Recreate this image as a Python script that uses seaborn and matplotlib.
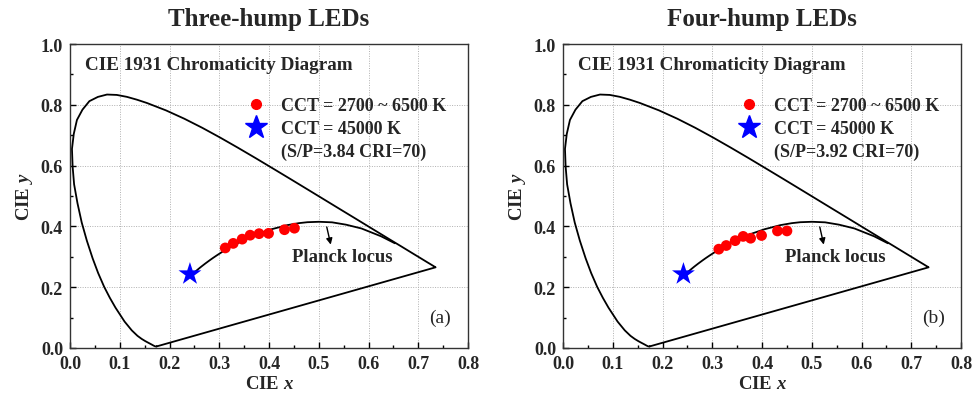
import numpy as np
import pandas as pd
import matplotlib
matplotlib.use("Agg")
import matplotlib.pyplot as plt
from matplotlib.lines import Line2D
import seaborn as sns

# ---------------- data ----------------
# CIE 1931 spectral locus (380-700 nm), denser around the green corner
spec_x = [0.1741, 0.1740, 0.1738, 0.1736, 0.1733, 0.1730, 0.1726, 0.1721, 0.1714, 0.1703,
          0.1689, 0.1669, 0.1644, 0.1611, 0.1566, 0.1510, 0.1440, 0.1355, 0.1241, 0.1096,
          0.0913, 0.0800, 0.0687, 0.0565, 0.0454, 0.0338, 0.0235, 0.0150, 0.0082, 0.0052,
          0.0039, 0.0075, 0.0139, 0.0250, 0.0389, 0.0560, 0.0743, 0.0940, 0.1142, 0.1345,
          0.1547, 0.1929, 0.2296, 0.2658, 0.3016, 0.3373, 0.3731, 0.4087, 0.4441, 0.4788,
          0.5125, 0.5448, 0.5752, 0.6029, 0.6270, 0.6482, 0.6658, 0.6801, 0.6915, 0.7006,
          0.7079, 0.7140, 0.7190, 0.7230, 0.7260, 0.7283, 0.7300, 0.7311, 0.7320, 0.7327,
          0.7334, 0.7340, 0.7344, 0.7346, 0.7347]
spec_y = [0.0050, 0.0050, 0.0049, 0.0049, 0.0048, 0.0048, 0.0048, 0.0048, 0.0051, 0.0058,
          0.0069, 0.0086, 0.0109, 0.0138, 0.0177, 0.0227, 0.0297, 0.0399, 0.0578, 0.0868,
          0.1327, 0.1650, 0.2007, 0.2465, 0.2950, 0.3530, 0.4127, 0.4760, 0.5384, 0.5970,
          0.6548, 0.7040, 0.7502, 0.7840, 0.8120, 0.8260, 0.8338, 0.8325, 0.8262, 0.8168,
          0.8059, 0.7816, 0.7543, 0.7243, 0.6923, 0.6589, 0.6245, 0.5896, 0.5547, 0.5202,
          0.4866, 0.4544, 0.4242, 0.3965, 0.3725, 0.3514, 0.3340, 0.3197, 0.3083, 0.2993,
          0.2920, 0.2859, 0.2809, 0.2770, 0.2740, 0.2717, 0.2700, 0.2689, 0.2680, 0.2673,
          0.2666, 0.2660, 0.2656, 0.2654, 0.2653]

# Planck locus (from 1000 K toward very high CCT)
planck_x = [0.6528, 0.6251, 0.5857, 0.5547, 0.5267, 0.5006, 0.4770, 0.4599, 0.4369, 0.4053,
            0.3805, 0.3608, 0.3451, 0.3325, 0.3221, 0.3135, 0.3064, 0.2952, 0.2869, 0.2807,
            0.2719, 0.2637, 0.2565, 0.2525, 0.2495, 0.2455, 0.2420]
planck_y = [0.3444, 0.3674, 0.3931, 0.4056, 0.4133, 0.4151, 0.4137, 0.4106, 0.4041, 0.3907,
            0.3768, 0.3636, 0.3516, 0.3411, 0.3318, 0.3237, 0.3166, 0.3048, 0.2956, 0.2884,
            0.2778, 0.2674, 0.2577, 0.2522, 0.2480, 0.2440, 0.2410]

# LED chromaticity points, CCT 2700~6500 K
three_x = [0.312, 0.328, 0.346, 0.362, 0.380, 0.399, 0.431, 0.451]
three_y = [0.329, 0.344, 0.358, 0.371, 0.376, 0.377, 0.389, 0.394]
four_x = [0.313, 0.328, 0.346, 0.362, 0.377, 0.399, 0.431, 0.450]
four_y = [0.325, 0.337, 0.353, 0.367, 0.361, 0.370, 0.385, 0.385]

# CCT = 45000 K points
star_three = (0.241, 0.243)
star_four = (0.242, 0.243)

titles = ["Three-hump LEDs", "Four-hump LEDs"]
sp_labels = ["(S/P=3.84 CRI=70)", "(S/P=3.92 CRI=70)"]
panel_tags = ["(a)", "(b)"]
x_ticks = [0.0, 0.1, 0.2, 0.3, 0.4, 0.5, 0.6, 0.7, 0.8]
y_ticks = [0.0, 0.2, 0.4, 0.6, 0.8, 1.0]

# ---------------- style ----------------
sns.set_style("ticks")
plt.rcParams["font.family"] = ["Liberation Serif", "DejaVu Serif"]
plt.rcParams["font.weight"] = "bold"
plt.rcParams["axes.labelweight"] = "bold"
plt.rcParams["mathtext.fontset"] = "custom"
plt.rcParams["mathtext.it"] = "Liberation Serif:italic:bold"
plt.rcParams["mathtext.rm"] = "Liberation Serif:bold"

fig = plt.figure(figsize=(9.78, 4.02), dpi=100)
axes = [fig.add_axes([0.0716, 0.132, 0.407, 0.756]),
        fig.add_axes([0.5757, 0.132, 0.407, 0.756])]

spec_df = pd.DataFrame({"x": spec_x + [spec_x[0]], "y": spec_y + [spec_y[0]]})
planck_df = pd.DataFrame({"x": planck_x, "y": planck_y})
leds = [pd.DataFrame({"x": three_x, "y": three_y}), pd.DataFrame({"x": four_x, "y": four_y})]
stars = [star_three, star_four]

for i, ax in enumerate(axes):
    ax.grid(True, which="major", color="#b0b0b0", linestyle=(0, (1, 1.5)), linewidth=0.7)
    ax.set_axisbelow(True)
    sns.lineplot(data=spec_df, x="x", y="y", sort=False, estimator=None, color="black",
                 linewidth=1.3, ax=ax, solid_joinstyle="round")
    sns.lineplot(data=planck_df, x="x", y="y", sort=False, estimator=None, color="black",
                 linewidth=1.3, ax=ax, solid_joinstyle="round")
    sns.scatterplot(data=leds[i], x="x", y="y", color="red", s=60, edgecolor="none",
                    ax=ax, zorder=5)
    sns.scatterplot(x=[stars[i][0]], y=[stars[i][1]], marker="*", color="blue", s=300,
                    edgecolor="none", ax=ax, zorder=6)

    ax.set_xlim(0, 0.8)
    ax.set_ylim(0, 1.0)
    ax.set_xticks(x_ticks)
    ax.set_yticks(y_ticks)
    ax.set_xticks(np.arange(0.05, 0.8, 0.1), minor=True)
    ax.set_yticks(np.arange(0.1, 1.0, 0.2), minor=True)
    ax.set_xticklabels([f"{v:.1f}" for v in x_ticks])
    ax.set_yticklabels([f"{v:.1f}" for v in y_ticks])
    ax.tick_params(which="both", direction="in", top=False, right=False,
                   labelsize=13, color="black", pad=5)
    ax.tick_params(which="major", length=4, width=1)
    ax.tick_params(which="minor", length=2.5, width=1)
    for s in ax.spines.values():
        s.set_linewidth(1.0)
        s.set_color("#333333")
        s.set_visible(True)

    ax.set_xlabel("CIE $x$", fontsize=13.5, labelpad=2)
    ax.set_ylabel("CIE $y$", fontsize=13.5, labelpad=4)
    ax.set_title(titles[i], fontsize=18, fontweight="bold", pad=14)

    ax.text(0.038, 0.934, "CIE 1931 Chromaticity Diagram", transform=ax.transAxes,
            fontsize=13.8, fontweight="bold", va="center", ha="left")
    ax.text(0.93, 0.10, panel_tags[i], transform=ax.transAxes, fontsize=14,
            fontweight="normal", ha="center", va="center")

    ax.annotate("", xy=(0.524, 0.340), xytext=(0.516, 0.398),
                arrowprops=dict(arrowstyle="-|>", color="black", lw=1.0,
                                mutation_scale=9, shrinkA=0, shrinkB=0))
    ax.text(0.446, 0.300, "Planck locus", fontsize=13.5, fontweight="bold",
            ha="left", va="center")

    handles = [Line2D([], [], marker="o", color="red", linestyle="none", markersize=7),
               Line2D([], [], marker="*", color="blue", linestyle="none", markersize=17),
               Line2D([], [], linestyle="none")]
    labels = ["CCT = 2700 ~ 6500 K", "CCT = 45000 K", sp_labels[i]]
    ax.legend(handles=handles, labels=labels, loc="upper left",
              bbox_to_anchor=(0.445, 0.825), frameon=False, handlelength=1.0,
              handletextpad=0.9, borderpad=0, borderaxespad=0, labelspacing=0.33,
              prop={"family": "Liberation Serif", "weight": "bold", "size": 13})

fig.savefig("out.png", dpi=100)
